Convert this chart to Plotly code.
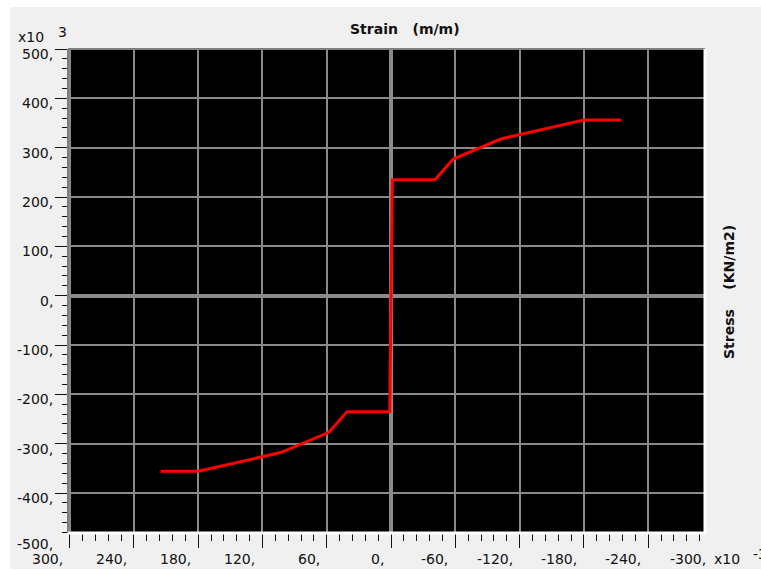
import plotly.graph_objects as go

# ---- data (strain x10^-3, stress x10^3 KN/m2) ----
strain = [215, 180, 103, 58, 41, 1.2, -1.2, -41, -58, -103, -180, -215]
stress = [-356, -356, -318, -277, -235, -235, 235, 235, 277, 318, 356, 356]

x_tick_vals = [300, 240, 180, 120, 60, 0, -60, -120, -180, -240, -300]
x_tick_text = ["300,", "240,", "180,", "120,", "60,", "0,", "-60,", "-120,", "-180,", "-240,", "-300,"]
y_tick_vals = [500, 400, 300, 200, 100, 0, -100, -200, -300, -400, -500]
y_tick_text = ["500,", "400,", "300,", "200,", "100,", "0,", "-100,", "-200,", "-300,", "-400,", "-500,"]

X_RANGE = [301.5, -293]
Y_RANGE = [-481, 500]

W, H = 761, 571
ML, MR, MT, MB = 68, 56, 49, 38
PW, PH = W - ML - MR, H - MT - MB

FONT = "DejaVu Sans"
TICKFONT = dict(family=FONT, size=14, color="#111")

def px2paper(px, py):
    return (px - ML) / PW, (H - MB - py) / PH

fig = go.Figure(go.Scatter(x=strain, y=stress, mode="lines",
                           line=dict(color="#ff0000", width=3),
                           hoverinfo="skip"))

grid = "#8a8a8a"
fig.update_layout(
    width=W, height=H,
    margin=dict(l=ML, r=MR, t=MT, b=MB),
    paper_bgcolor="#f0f0f0",
    plot_bgcolor="#000000",
    showlegend=False,
    xaxis=dict(range=X_RANGE, tickmode="linear", tick0=0, dtick=60,
               ticks="outside", ticklen=14, tickwidth=1, tickcolor="#111",
               showticklabels=False, showgrid=True, gridcolor=grid, gridwidth=1.5,
               zeroline=True, zerolinecolor=grid, zerolinewidth=4, showline=False,
               minor=dict(tick0=0, dtick=12, ticks="outside", ticklen=7,
                          tickwidth=1, tickcolor="#111", showgrid=False)),
    yaxis=dict(range=Y_RANGE, tickmode="linear", tick0=0, dtick=100,
               ticks="outside", ticklen=12, tickwidth=1, tickcolor="#111",
               showticklabels=False, showgrid=True, gridcolor=grid, gridwidth=1.5,
               zeroline=True, zerolinecolor=grid, zerolinewidth=4, showline=False,
               minor=dict(tick0=0, dtick=20, ticks="outside", ticklen=5,
                          tickwidth=1, tickcolor="#111", showgrid=False)),
)

ann = []
for v, t in zip(x_tick_vals, x_tick_text):
    fx = (v - X_RANGE[0]) / (X_RANGE[1] - X_RANGE[0])
    ann.append(dict(x=fx, y=0, xref="paper", yref="paper", xanchor="right", yanchor="middle",
                    xshift=-5, yshift=-26, text=t, showarrow=False, font=TICKFONT))
for v, t in zip(y_tick_vals, y_tick_text):
    fy = (v - Y_RANGE[0]) / (Y_RANGE[1] - Y_RANGE[0])
    # keep the lowest label inside the band above the x labels (as in the original)
    fy = max(fy, -6 / PH)
    ann.append(dict(x=0, y=fy, xref="paper", yref="paper", xanchor="right", yanchor="middle",
                    xshift=-13, yshift=-5, text=t, showarrow=False, font=TICKFONT))

def text_at(px, py, txt, anchor="left", size=14, bold=False, angle=0):
    fx, fy = px2paper(px, py)
    return dict(x=fx, y=fy, xref="paper", yref="paper", xanchor=anchor, yanchor="middle",
                text=(f"<b>{txt}</b>" if bold else txt), showarrow=False, textangle=angle,
                font=dict(family=FONT, size=size, color="#111"))

ann.append(text_at(405, 29, "Strain\u00a0\u00a0\u00a0(m/m)", anchor="center", bold=True))
ann.append(text_at(729, 292, "Stress\u00a0\u00a0\u00a0\u00a0(KN/m2)", anchor="center", bold=True, angle=-90))
ann.append(text_at(16, 37, "x10"))
ann.append(text_at(56, 32, "3"))
ann.append(text_at(712, 559, "x10"))
ann.append(text_at(751, 554, "-3"))
fig.update_layout(annotations=ann)

shapes = []
# outer white strips
for (x0, y0, x1, y1) in [(0, 0, 10, H), (0, 0, W, 7), (0, 569, W, H)]:
    a0, b0 = px2paper(x0, y0)
    a1, b1 = px2paper(x1, y1)
    shapes.append(dict(type="rect", xref="paper", yref="paper", x0=a0, y0=b0, x1=a1, y1=b1,
                       line=dict(width=0), fillcolor="#ffffff", layer="below"))
# plot frame: gray top/left, white bottom/right
shapes.append(dict(type="line", xref="paper", yref="paper", x0=0, x1=1, y0=1, y1=1,
                   line=dict(color="#7f7f7f", width=2), layer="above"))
shapes.append(dict(type="line", xref="paper", yref="paper", x0=0, x1=0, y0=0, y1=1,
                   line=dict(color="#7f7f7f", width=2), layer="above"))
shapes.append(dict(type="line", xref="paper", yref="paper", x0=0, x1=1, y0=0, y1=0,
                   line=dict(color="#ffffff", width=3), layer="above"))
shapes.append(dict(type="line", xref="paper", yref="paper", x0=1, x1=1, y0=0, y1=1,
                   line=dict(color="#ffffff", width=3), layer="above"))
fig.update_layout(shapes=shapes)

fig.write_html("out.html", config={"displayModeBar": False},
               post_script="document.body.style.margin='0px';document.body.style.overflow='hidden';")
